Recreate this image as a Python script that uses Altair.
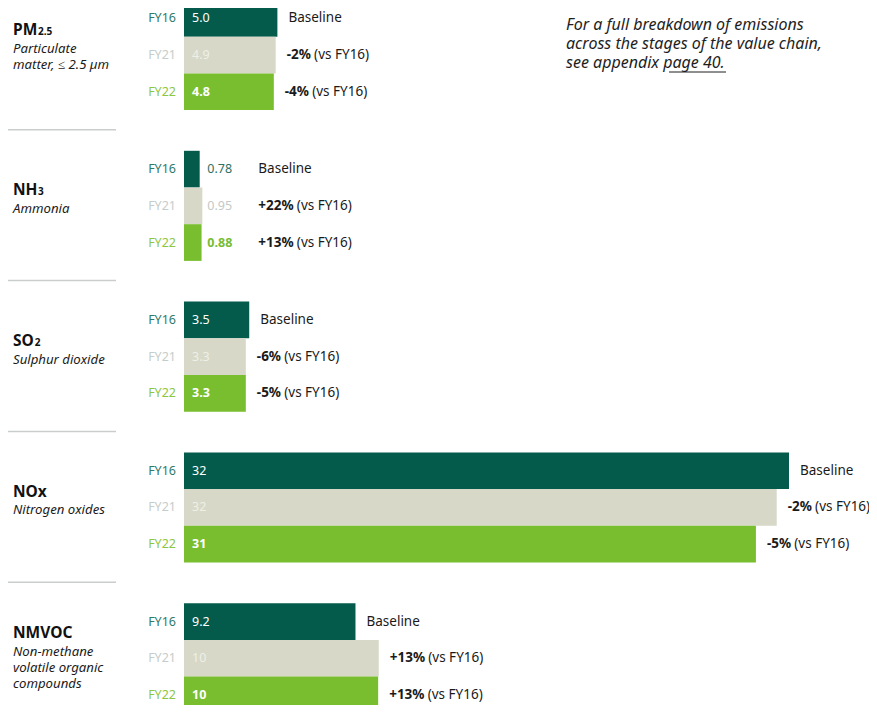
import altair as alt
import pandas as pd

# ---------------- data ----------------
groups = ["PM2.5", "NH3", "SO2", "NOx", "NMVOC"]
title_main = ["PM", "NH", "SO", "NOx", "NMVOC"]
title_sub = ["2.5", "3", "2", "", ""]
descriptions = [
    "Particulate\nmatter, ≤ 2.5 µm",
    "Ammonia",
    "Sulphur dioxide",
    "Nitrogen oxides",
    "Non-methane\nvolatile organic\ncompounds",
]
years = ["FY16", "FY21", "FY22"]

# bar lengths as drawn (kilotonnes)
fy16_values = [4.94, 0.83, 3.45, 32.0, 9.07]
fy21_values = [4.85, 0.97, 3.27, 31.35, 10.3]
fy22_values = [4.75, 0.93, 3.27, 30.25, 10.27]

# printed value labels
fy16_labels = ["5.0", "0.78", "3.5", "32", "9.2"]
fy21_labels = ["4.9", "0.95", "3.3", "32", "10"]
fy22_labels = ["4.8", "0.88", "3.3", "31", "10"]

# change vs FY16
fy21_change = ["-2%", "+22%", "-6%", "-2%", "+13%"]
fy22_change = ["-4%", "+13%", "-5%", "-5%", "+13%"]

annotation = "For a full breakdown of emissions\nacross the stages of the value chain,\nsee appendix page 40."

# ---------------- layout helpers ----------------
FONT = "Noto Sans"
X0_PX, X32_PX = 184, 789
PXU = (X32_PX - X0_PX) / 32.0          # pixels per unit
ROW_PX = 36.7                          # bar height
GROUP_PX = 150.8                       # group pitch
FS = 12.5                              # year / value labels
FS_CH = 13.5                           # change labels

bar_colors = {"FY16": "#045b4c", "FY21": "#d7d8c8", "FY22": "#79be2f"}
year_colors = {"FY16": "#2f7a69", "FY21": "#c5cdca", "FY22": "#8dc63f"}
inside_colors = {"FY16": "#ffffff", "FY21": "#eef0e6", "FY22": "#ffffff"}
outside_colors = {"FY16": "#2d7263", "FY21": "#c3c9c7", "FY22": "#78bc33"}

bold_w = {"+": 0.572, "-": 0.322, "%": 0.876, " ": 0.26}
def bold_width(s):
    return sum(bold_w.get(c, 0.572) for c in s) * FS_CH

TITLE_FS = 15.5
title_w = {"P": 0.644, "M": 0.931, "N": 0.776, "H": 0.80, "S": 0.564, "O": 0.807}
def title_width(s):
    return sum(title_w.get(c, 0.6) for c in s) * TITLE_FS

vals = [fy16_values, fy21_values, fy22_values]
labs = [fy16_labels, fy21_labels, fy22_labels]
chg = [[None] * 5, fy21_change, fy22_change]

rows = []
for g, grp in enumerate(groups):
    gmax = max(v[g] for v in vals)
    inside = gmax > 2.0
    for k, yr in enumerate(years):
        v = vals[k][g]
        top = g * GROUP_PX / ROW_PX + k
        if inside:
            lab_x = 0 + 8 / PXU
            lab_col = inside_colors[yr]
            ch_x = v + 11 / PXU
        else:
            lab_x = gmax + 5 / PXU
            lab_col = outside_colors[yr]
            ch_x = lab_x + 51 / PXU
        pct = chg[k][g]
        if pct is None:
            rest, rest_x = "Baseline", ch_x
        else:
            rest, rest_x = "(vs FY16)", ch_x + (bold_width(pct) + 0.26 * FS_CH) / PXU
        rows.append(dict(group=grp, year=yr, x0=0.0, value=v, top=top, bot=top + 1,
                         mid=top + 0.5, vlabel=labs[k][g], lab_x=lab_x, lab_col=lab_col,
                         bar_col=bar_colors[yr], year_col=year_colors[yr],
                         pct=pct if pct else "", ch_x=ch_x, rest=rest, rest_x=rest_x))
bars = pd.DataFrame(rows)

trows = []
for g, grp in enumerate(groups):
    nlines = descriptions[g].count("\n") + 1
    center = g * GROUP_PX / ROW_PX + 1.5
    t_off = -10.5 if nlines == 1 else -20
    trows.append(dict(main=title_main[g], sub=title_sub[g], desc=descriptions[g],
                      ty=center + t_off / ROW_PX, dy_=center + (t_off + 17.5) / ROW_PX,
                      subx=13.5 + title_width(title_main[g])))
titles = pd.DataFrame(trows)

seps = pd.DataFrame({"y": [(g * GROUP_PX - 21) / ROW_PX for g in range(1, len(groups))]})

XS = alt.Scale(domain=[0, 32], range=[X0_PX, X32_PX], nice=False, zero=False)
YS = alt.Scale(domain=[0, 19], range=[0, 19 * ROW_PX], nice=False, zero=False)

def X(f):
    return alt.X(f, type="quantitative", scale=XS, axis=None)

def Y(f):
    return alt.Y(f, type="quantitative", scale=YS, axis=None)

base = alt.Chart(bars)

bar_layer = base.mark_rect().encode(
    x=X("x0"), x2="value", y=Y("top"), y2="bot",
    color=alt.Color("bar_col:N", scale=None),
)

year_layer = base.mark_text(align="right", baseline="middle", font=FONT, fontSize=FS).encode(
    x=alt.value(176), y=Y("mid"), text="year:N", color=alt.Color("year_col:N", scale=None)
)

val_norm = base.transform_filter(alt.datum.year != "FY22").mark_text(
    align="left", baseline="middle", font=FONT, fontSize=FS).encode(
    x=X("lab_x"), y=Y("mid"), text="vlabel:N", color=alt.Color("lab_col:N", scale=None))
val_bold = base.transform_filter(alt.datum.year == "FY22").mark_text(
    align="left", baseline="middle", font=FONT, fontSize=FS, fontWeight="bold").encode(
    x=X("lab_x"), y=Y("mid"), text="vlabel:N", color=alt.Color("lab_col:N", scale=None))

pct_layer = base.transform_filter(alt.datum.pct != "").mark_text(
    align="left", baseline="middle", font=FONT, fontSize=FS_CH, fontWeight="bold", color="#1a1a1a").encode(
    x=X("ch_x"), y=Y("mid"), text="pct:N")
rest_layer = base.mark_text(
    align="left", baseline="middle", font=FONT, fontSize=FS_CH, color="#1a1a1a").encode(
    x=X("rest_x"), y=Y("mid"), text="rest:N")

tbase = alt.Chart(titles)
title_layer = tbase.mark_text(align="left", baseline="alphabetic", font=FONT, fontSize=TITLE_FS,
                              fontWeight="bold", color="#111111").encode(
    x=alt.value(13), y=Y("ty"), text="main:N")
sub_layer = tbase.transform_filter(alt.datum.sub != "").mark_text(
    align="left", baseline="alphabetic", font=FONT, fontSize=10, fontWeight="bold", color="#111111").encode(
    x=alt.X("subx:Q", scale=None), y=Y("ty"), text="sub:N")
desc_layer = tbase.mark_text(align="left", baseline="alphabetic", font=FONT, fontSize=13.2,
                             fontStyle="italic", color="#1a1a1a", lineBreak="\n", lineHeight=16).encode(
    x=alt.value(13), y=Y("dy_"), text="desc:N")

sep_layer = alt.Chart(seps).mark_rule(color="#c9cdcd", strokeWidth=1.5).encode(
    x=alt.value(0), x2=alt.value(116), y=Y("y"))

note = alt.Chart(pd.DataFrame({"t": [annotation]})).mark_text(
    align="left", baseline="alphabetic", font=FONT, fontSize=16, fontStyle="italic",
    color="#1e1e1e", lineBreak="\n", lineHeight=19.2).encode(
    x=alt.value(566), y=alt.value(30), text="t:N")
underline = alt.Chart(pd.DataFrame({"t": [annotation]})).mark_rule(color="#1e1e1e", strokeWidth=1).encode(
    x=alt.value(669), x2=alt.value(726), y=alt.value(72))

chart = alt.layer(
    sep_layer, bar_layer, year_layer, val_norm, val_bold, pct_layer, rest_layer,
    title_layer, sub_layer, desc_layer, note, underline,
).properties(
    width=869, height=705,
    padding={"left": -8, "top": -8, "right": 0, "bottom": 0},
    autosize=alt.AutoSizeParams(type="none"),
).configure_view(stroke=None)

chart.save("out.html", embed_options={"renderer": "svg", "actions": False})
